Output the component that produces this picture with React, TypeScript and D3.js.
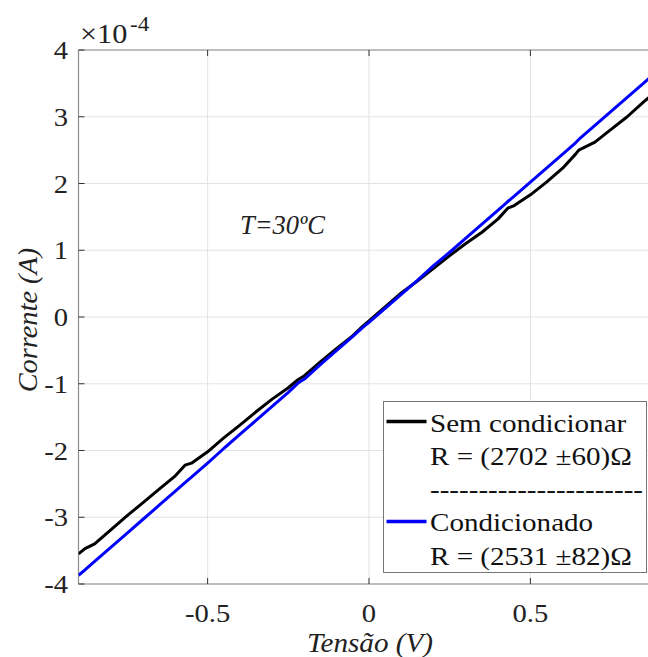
import React from "react";
import * as d3 from "d3";

const voltage = [-0.9,-0.88,-0.85,-0.8,-0.75,-0.7,-0.65,-0.6,-0.57,-0.55,-0.5,-0.45,-0.4,-0.35,-0.3,-0.25,-0.22,-0.2,-0.15,-0.1,-0.05,-0.02,0,0.05,0.1,0.15,0.2,0.25,0.3,0.35,0.4,0.43,0.45,0.5,0.55,0.6,0.64,0.65,0.7,0.75,0.8,0.85,0.9];
const semCondicionar = [-3.55,-3.47,-3.40,-3.19,-2.98,-2.78,-2.58,-2.38,-2.22,-2.19,-2.02,-1.81,-1.62,-1.42,-1.23,-1.06,-0.94,-0.88,-0.67,-0.47,-0.28,-0.14,-0.06,0.15,0.36,0.54,0.73,0.92,1.10,1.27,1.47,1.63,1.67,1.83,2.02,2.23,2.44,2.50,2.62,2.81,3.00,3.22,3.42];
const condicionado = [-3.87,-3.79,-3.66,-3.45,-3.24,-3.03,-2.82,-2.61,-2.48,-2.40,-2.19,-1.97,-1.76,-1.55,-1.34,-1.13,-0.99,-0.93,-0.71,-0.50,-0.29,-0.16,-0.08,0.13,0.34,0.55,0.77,0.97,1.18,1.39,1.60,1.73,1.81,2.02,2.23,2.44,2.61,2.66,2.87,3.08,3.29,3.50,3.71];
const xTicks = [-0.5, 0, 0.5];
const yTicks = [-4, -3, -2, -1, 0, 1, 2, 3, 4];
const legendLines = ["Sem condicionar", "R = (2702 ±60)Ω", "----------------------", "Condicionado", "R = (2531 ±82)Ω"];

const W = 648, H = 657;
const left = 78.5, top = 50, bottom = 584, right = 659.5;
const SERIF = "Liberation Serif";

type TP = { x: number; y: number; sx?: number; size: number; anchor?: string; italic?: boolean; rotate?: number; fill?: string; children: React.ReactNode };
function T({ x, y, sx = 1, size, anchor = "start", italic = false, rotate = 0, fill = "#222", children }: TP) {
  const tr = `translate(${x},${y})` + (rotate ? ` rotate(${rotate})` : "") + ` scale(${sx},1)`;
  return (
    <text transform={tr} textAnchor={anchor} style={{ fontFamily: SERIF }} fontSize={size} fontStyle={italic ? "italic" : "normal"} fill={fill}>
      {children}
    </text>
  );
}

export default function App() {
  const x = d3.scaleLinear().domain([-0.9, 0.9]).range([left, right]);
  const y = d3.scaleLinear().domain([-4e-4, 4e-4]).range([bottom, top]);
  const mk = (vals: number[]) =>
    d3.line<number>().x((_, i) => x(voltage[i])).y((v) => y(v * 1e-4))(vals) || "";
  const axisColor = "#8c8c8c";
  return (
    <svg width={W} height={H} style={{ position: "absolute", left: 0, top: 0 }}>
      <rect x={0} y={0} width={W} height={H} fill="#fff" />
      <defs>
        <clipPath id="plot">
          <rect x={left} y={top} width={right - left} height={bottom - top} />
        </clipPath>
      </defs>
      {xTicks.map((v) => (
        <line key={"gx" + v} x1={x(v)} x2={x(v)} y1={top} y2={bottom} stroke="#e3e3e3" strokeWidth={1} />
      ))}
      {yTicks.map((v) => (
        <line key={"gy" + v} x1={left} x2={right} y1={y(v * 1e-4)} y2={y(v * 1e-4)} stroke="#e3e3e3" strokeWidth={1} />
      ))}
      <line x1={left} x2={left} y1={top} y2={bottom} stroke={axisColor} strokeWidth={1.2} />
      <line x1={left} x2={right} y1={bottom} y2={bottom} stroke={axisColor} strokeWidth={1.2} />
      <line x1={left} x2={right} y1={top} y2={top} stroke={axisColor} strokeWidth={1.2} />
      {xTicks.map((v) => (
        <g key={"tx" + v}>
          <line x1={x(v)} x2={x(v)} y1={bottom} y2={bottom - 6} stroke="#333" strokeWidth={1} />
          <line x1={x(v)} x2={x(v)} y1={top} y2={top + 6} stroke="#333" strokeWidth={1} />
          <T x={x(v)} y={622} size={26} sx={1.1} anchor="middle">
            {v === 0 ? "0" : String(v)}
          </T>
        </g>
      ))}
      {yTicks.map((v) => (
        <g key={"ty" + v}>
          <line x1={left} x2={left + 6} y1={y(v * 1e-4)} y2={y(v * 1e-4)} stroke="#333" strokeWidth={1} />
          <T x={68} y={y(v * 1e-4) + 9} size={26} sx={1.1} anchor="end">
            {String(v)}
          </T>
        </g>
      ))}
      <T x={80} y={43} size={27.5} sx={1.1}>×10</T>
      <T x={130} y={31} size={21} sx={1.1}>-4</T>
      <g clipPath="url(#plot)">
        <path d={mk(semCondicionar)} fill="none" stroke="#000" strokeWidth={3} strokeLinejoin="round" />
        <path d={mk(condicionado)} fill="none" stroke="#0000ff" strokeWidth={3} strokeLinejoin="round" />
      </g>
      <T x={240} y={233.5} size={26.5} italic>T=30ºC</T>
      <T x={370} y={652} size={27} sx={1.08} anchor="middle" italic>Tensão (V)</T>
      <T x={37} y={320} size={27} sx={1.05} anchor="middle" italic rotate={-90}>Corrente (A)</T>
      <rect x={383.5} y={401.5} width={263} height={171} fill="#fff" stroke="#777" strokeWidth={1} />
      <line x1={386.5} x2={426.5} y1={421.5} y2={421.5} stroke="#000" strokeWidth={3.5} />
      <line x1={386.5} x2={426.5} y1={521.5} y2={521.5} stroke="#0000ff" strokeWidth={3.5} />
      {legendLines.map((s, i) => (
        <T key={i} x={430} y={431.5 + i * 33.3} size={25.3} sx={1.15} fill="#111">
          {s}
        </T>
      ))}
    </svg>
  );
}
